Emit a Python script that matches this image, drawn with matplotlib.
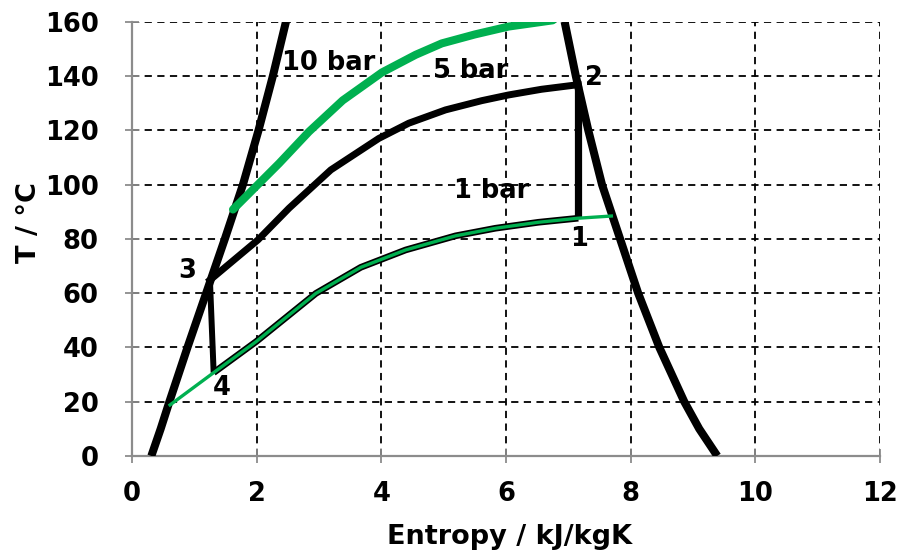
import numpy as np
import matplotlib
matplotlib.use('Agg')
import matplotlib.pyplot as plt

green = '#00B050'
plt.rcParams['font.family'] = 'DejaVu Sans'
plt.rcParams['font.weight'] = 'bold'

# saturation dome (T in degC)
T_sat = [0, 10, 20, 40, 60, 80, 100, 120, 140, 160]
s_liq = [0.31, 0.46, 0.60, 0.89, 1.19, 1.49, 1.78, 2.03, 2.26, 2.47]
s_vap = [9.39, 9.10, 8.86, 8.46, 8.12, 7.83, 7.54, 7.32, 7.12, 6.94]

# 10 bar isobar
s_10bar = [1.62, 2.36, 2.84, 3.38, 4.01, 4.55, 4.97, 5.50, 6.04, 6.75]
T_10bar = [90.8, 107.8, 119.5, 131.0, 141.3, 147.8, 152.0, 155.3, 158.2, 160.5]

# 5 bar isobar, 3 -> 2
s_5bar = [1.25, 2.02, 2.52, 3.19, 3.96, 4.44, 5.03, 5.61, 6.04, 6.57, 7.16]
T_5bar = [64.8, 79.6, 91.3, 105.4, 117.0, 122.6, 127.5, 130.9, 133.0, 135.1, 136.8]

# 1 bar isobar, liquid line -> vapour line (points 4..1 are indices 1..9)
s_1bar = [0.61, 1.31, 1.99, 2.95, 3.67, 4.39, 5.19, 5.83, 6.52, 7.16, 7.69]
T_1bar = [18.8, 30.7, 42.1, 59.9, 69.5, 75.9, 81.1, 83.9, 86.1, 87.6, 88.4]

# cycle state points
pt_s = [7.16, 7.16, 1.25, 1.31]
pt_T = [87.6, 136.8, 64.8, 30.7]
pt_names = ['1', '2', '3', '4']
pt_lab_s = [7.17, 7.41, 0.88, 1.44]
pt_lab_T = [80.0, 139.3, 68.2, 25.2]

fig = plt.figure(figsize=(9.06, 5.56), dpi=100)
ax = fig.add_axes([0.1457, 0.1799, 0.8256, 0.7811])

ax.plot(s_liq, T_sat, color='black', lw=5.8, solid_capstyle='butt', solid_joinstyle='round', zorder=3)
ax.plot(s_vap, T_sat, color='black', lw=5.8, solid_capstyle='butt', solid_joinstyle='round', zorder=3)

ax.plot(s_5bar, T_5bar, color='black', lw=5.0, zorder=4)
# 1-2 and 3-4
ax.plot([pt_s[0], pt_s[1]], [pt_T[0], pt_T[1]], color='black', lw=5.2, solid_capstyle='butt', zorder=4)
ax.plot([pt_s[2], pt_s[3]], [pt_T[2], pt_T[3]], color='black', lw=4.3, solid_capstyle='butt', zorder=4)

# 4-1 heat addition drawn under the 1 bar line
ax.plot(s_1bar[1:10], T_1bar[1:10], color='black', lw=4.8, solid_capstyle='butt', zorder=4)
ax.plot(s_1bar, T_1bar, color=green, lw=2.4, zorder=5)

ax.plot(s_10bar, T_10bar, color=green, lw=5.8, solid_capstyle='round', zorder=5)

for n, xs, ys in zip(pt_names, pt_lab_s, pt_lab_T):
    ax.text(xs, ys, n, fontsize=18.5, fontweight='bold', ha='center', va='center', zorder=6)

ax.text(3.16, 144.8, '10 bar', fontsize=18.5, fontweight='bold', ha='center', va='center', zorder=6)
ax.text(5.43, 141.9, '5 bar', fontsize=18.5, fontweight='bold', ha='center', va='center', zorder=6)
ax.text(5.77, 97.5, '1 bar', fontsize=18.5, fontweight='bold', ha='center', va='center', zorder=6)

ax.set_xlim(0, 12)
ax.set_ylim(0, 160)
ax.set_xticks(np.arange(0, 13, 2))
ax.set_yticks(np.arange(0, 161, 20))
ax.grid(True, color='black', linestyle=(0, (4, 3)), linewidth=1.3)
ax.set_axisbelow(True)

for side in ['top', 'right']:
    ax.spines[side].set_visible(False)
for side in ['left', 'bottom']:
    ax.spines[side].set_color('#8c8c8c')
    ax.spines[side].set_linewidth(1.6)

ax.tick_params(axis='both', direction='inout', length=10, width=1.3, color='#8c8c8c',
               labelsize=18.5)
ax.tick_params(axis='y', pad=19)
ax.tick_params(axis='x', pad=13)
for lab in ax.get_xticklabels() + ax.get_yticklabels():
    lab.set_fontweight('bold')

ax.set_xlabel('Entropy / kJ/kgK', fontsize=19.5, fontweight='bold')
ax.set_ylabel('T / \u00b0C', fontsize=19.5, fontweight='bold')
ax.xaxis.label.set_va('center')
ax.yaxis.label.set_va('center')
ax.xaxis.set_label_coords(0.505, -0.187)
ax.yaxis.set_label_coords(-0.138, 0.538)

fig.savefig('out.png', dpi=100)
